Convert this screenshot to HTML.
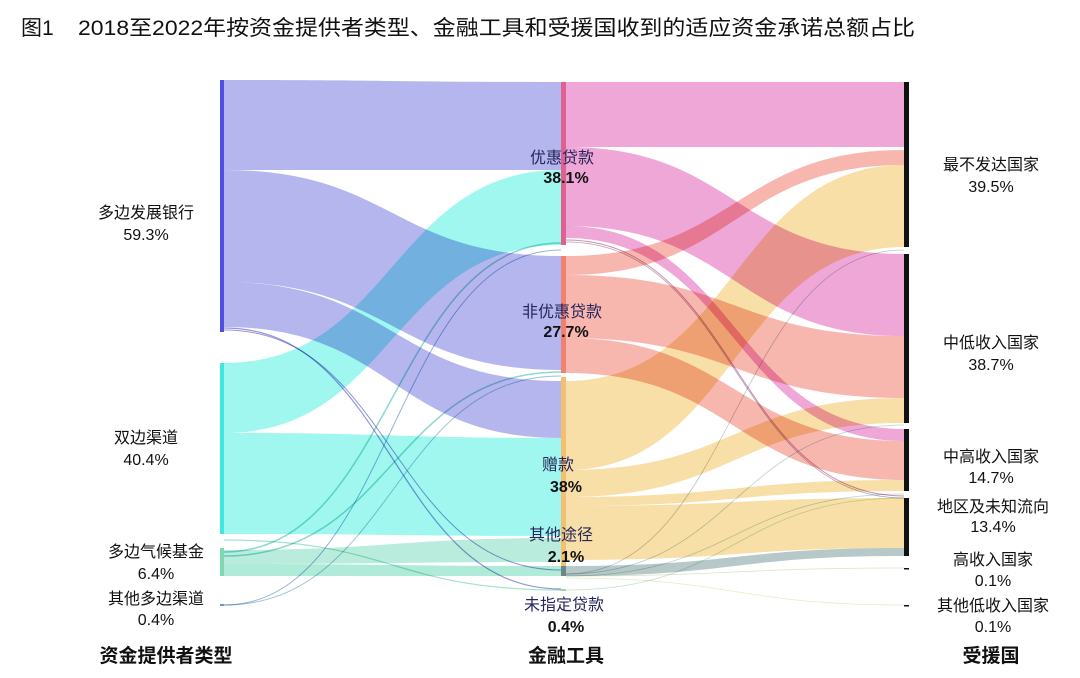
<!DOCTYPE html>
<html><head><meta charset="utf-8">
<style>
html,body{margin:0;padding:0;background:#fff;}
svg{display:block;font-family:"Liberation Sans","Noto Sans CJK SC",sans-serif;}
#links path{mix-blend-mode:multiply;}
</style></head>
<body>
<svg id="s" width="1080" height="678" viewBox="0 0 1080 678" xmlns="http://www.w3.org/2000/svg">
<text x="21" y="35" font-size="21" fill="#111">图1</text>
<text x="78" y="35" font-size="21" fill="#111" textLength="837" lengthAdjust="spacingAndGlyphs">2018至2022年按资金提供者类型、金融工具和受援国收到的适应资金承诺总额占比</text>
<g id="links"></g>
<g id="bars">
<rect x="220" y="80" width="4" height="252" fill="#5050e0"/>
<rect x="220" y="363" width="4" height="171" fill="#40e8e0"/>
<rect x="220" y="548" width="4" height="28" fill="#7fd8b0"/>
<rect x="220" y="604" width="4" height="2" fill="#7090d0"/>
<rect x="561" y="82" width="5" height="163" fill="#e0608f"/>
<rect x="561" y="256" width="5" height="117" fill="#f08070"/>
<rect x="561" y="377" width="5" height="189" fill="#f2c070"/>
<rect x="561" y="566" width="5" height="10" fill="#6a8888"/>
<rect x="561" y="589" width="5" height="2" fill="#a0d0b0"/>
<rect x="904" y="82" width="5" height="165" fill="#111"/>
<rect x="904" y="254" width="5" height="169" fill="#111"/>
<rect x="904" y="429" width="5" height="62" fill="#111"/>
<rect x="904" y="498" width="5" height="58" fill="#111"/>
<rect x="904" y="568" width="5" height="1.5" fill="#111"/>
<rect x="904" y="605" width="5" height="1.5" fill="#111"/>
</g>
<g font-size="16" fill="#111" text-anchor="middle">
<text x="146" y="218">多边发展银行</text><text x="146" y="240">59.3%</text>
<text x="146" y="443">双边渠道</text><text x="146" y="465">40.4%</text>
<text x="156" y="557">多边气候基金</text><text x="156" y="579">6.4%</text>
<text x="156" y="604">其他多边渠道</text><text x="156" y="625">0.4%</text>
</g>
<g font-size="16" fill="#26265a" text-anchor="middle">
<text x="562" y="163">优惠贷款</text><text x="566" y="183" font-weight="bold" fill="#111">38.1%</text>
<text x="562" y="317">非优惠贷款</text><text x="566" y="337" font-weight="bold" fill="#111">27.7%</text>
<text x="558" y="470">赠款</text><text x="566" y="492" font-weight="bold" fill="#111">38%</text>
<text x="561" y="540">其他途径</text><text x="566" y="562" font-weight="bold" fill="#111">2.1%</text>
<text x="564" y="610">未指定贷款</text><text x="566" y="632" font-weight="bold" fill="#111">0.4%</text>
</g>
<g font-size="16" fill="#111" text-anchor="middle">
<text x="991" y="170">最不发达国家</text><text x="991" y="192">39.5%</text>
<text x="991" y="348">中低收入国家</text><text x="991" y="370">38.7%</text>
<text x="991" y="462">中高收入国家</text><text x="991" y="483">14.7%</text>
<text x="993" y="512">地区及未知流向</text><text x="993" y="532">13.4%</text>
<text x="993" y="565">高收入国家</text><text x="993" y="586">0.1%</text>
<text x="993" y="611">其他低收入国家</text><text x="993" y="632">0.1%</text>
</g>
<g font-size="19" font-weight="bold" fill="#111" text-anchor="middle">
<text x="166" y="662">资金提供者类型</text>
<text x="566" y="662">金融工具</text>
<text x="991" y="662">受援国</text>
</g>
</svg>
<script>
var g=document.getElementById('links'),NS='http://www.w3.org/2000/svg';
function rib(x0,x1,a0,b0,a1,b1,c,o){var m=(x0+x1)/2;var p=document.createElementNS(NS,'path');
p.setAttribute('d','M'+x0+','+a0+' C'+m+','+a0+' '+m+','+a1+' '+x1+','+a1+' L'+x1+','+b1+' C'+m+','+b1+' '+m+','+b0+' '+x0+','+b0+' Z');
p.setAttribute('fill',c);p.setAttribute('fill-opacity',o||0.5);g.appendChild(p);}
function ln(x0,x1,y0,y1,c,w){var m=(x0+x1)/2;var p=document.createElementNS(NS,'path');
p.setAttribute('d','M'+x0+','+y0+' C'+m+','+y0+' '+m+','+y1+' '+x1+','+y1);
p.setAttribute('fill','none');p.setAttribute('stroke',c);p.setAttribute('stroke-width',w||1);p.setAttribute('stroke-opacity',0.6);g.appendChild(p);}
var B='#6e6ee0',C='#40f0e0',G='#50d0a8',P='#e050b0',S='#f07060',Y='#f0c050',R='#7a9a9a';
var L0=224,L1=561,R0=566,R1=904;
rib(L0,L1,80,170,82,170,B);
rib(L0,L1,170,282,256,370,B);
rib(L0,L1,282,327,381,438,B);
rib(L0,L1,363,433,170,245,C);
rib(L0,L1,433,534,438,536,C);
rib(L0,L1,550,564,538,562,G,0.4);
rib(L0,L1,564,576,566,576,G,0.45);
ln(L0,L1,328,589,'#5050c0',1.2);ln(L0,L1,330,570,'#5050c0',1);
ln(L0,L1,552,243,'#40c0b0',1.5);ln(L0,L1,556,372,'#40c0b0',1.5);
ln(L0,L1,605,250,'#5080c0',1);ln(L0,L1,605,376,'#60a0c0',1);
ln(L0,L1,540,590,'#60d0a0',1.2);
rib(R0,R1,82,147,82,147,P);
rib(R0,R1,147,226,254,336,P);
rib(R0,R1,226,238,429,441,P);
rib(R0,R1,256,275,150,165,S);
rib(R0,R1,275,338,336,398,S);
rib(R0,R1,338,373,441,480,S);
rib(R0,R1,381,470,165,247,Y);
rib(R0,R1,470,497,398,423,Y);
rib(R0,R1,497,506,480,491,Y);
rib(R0,R1,506,560,498,548,Y);
rib(R0,R1,566,576,548,556,R,0.55);
ln(R0,R1,240,496,'#b04080',1);ln(R0,R1,242,498,'#806080',0.8);
ln(R0,R1,574,250,'#90a0a0',0.8);ln(R0,R1,574,425,'#90b0b0',0.8);
ln(R0,R1,576,494,'#90c0b0',0.8);ln(R0,R1,590,498,'#a0d0a0',0.8);
ln(R0,R1,576,568,'#c0d0a0',0.8);ln(R0,R1,578,605,'#d0e0a0',0.8);
</script>
</body></html>
